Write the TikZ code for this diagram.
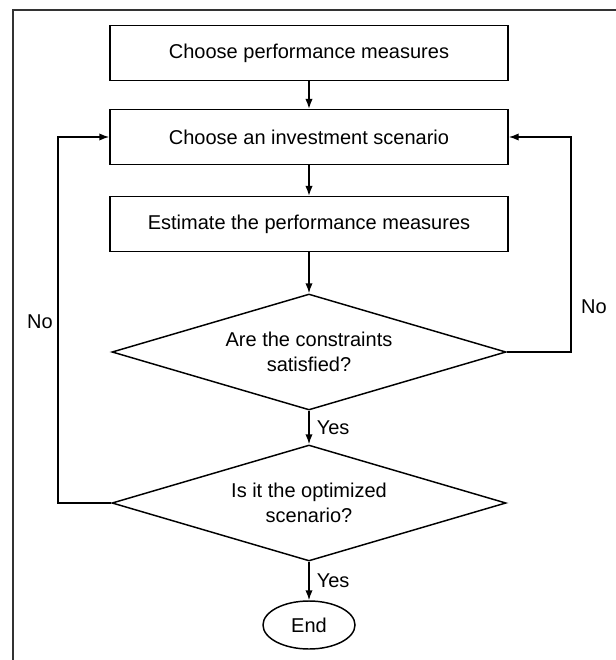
\documentclass[tikz,border=0pt]{standalone}
\usepackage{fontspec}
\setmainfont{Liberation Sans}
\usetikzlibrary{shapes.geometric,arrows.meta}

\tikzset{
  stepbox/.style={draw, line width=1.1pt, minimum width=298.5pt, minimum height=41pt, inner sep=2pt},
  decision/.style={draw, diamond, line width=1.1pt, aspect=3.4, minimum width=295.5pt, minimum height=87pt, inner sep=1pt, align=center},
  terminal/.style={draw, ellipse, line width=1.1pt, minimum width=69pt, minimum height=36pt, inner sep=1pt},
  flow/.style={line width=1.1pt, -{Latex[length=7.5pt,width=5.5pt]}},
  loop/.style={line width=1.1pt, -{Latex[length=7.5pt,width=5.5pt]}, rounded corners=0pt}
}

\begin{document}
\begin{tikzpicture}[x=0.75pt, y=-0.75pt, font=\fontsize{15}{19}\selectfont]
                \useasboundingbox (0,0) rectangle (616,660);
                % frame (cut at the right and bottom)
                \draw[line width=0.9pt, black!80] (616,10) -| (13,660);
                % steps
                \node[stepbox] (measures) at (309,53) {Choose performance measures};
                \node[stepbox] (scenario) at (309,137) {Choose an investment scenario};
                \node[stepbox] (estimate) at (309,224) {Estimate the performance measures};
                \node[decision] (constraints) at (309,352) {Are the constraints\\satisfied?};
                \node[decision] (optimized) at (309,503) {Is it the optimized\\scenario?};
                \node[terminal] (end) at (309,625) {End};
                % loop corners
                \coordinate (rightturn) at (571,352);
                \coordinate (leftturn) at (58,503);
                % connectors
                \draw[flow] (measures) -- (scenario);
                \draw[flow] (scenario) -- (estimate);
                \draw[flow] (estimate) -- (constraints);
                \draw[flow] (constraints) -- node[right, xshift=2pt] (yes1) {Yes} (optimized);
                \draw[flow] (optimized) -- node[right, xshift=2pt] (yes2) {Yes} (end);
                \draw[loop] (constraints.east) -- (rightturn) |- (scenario.east);
                \draw[loop] (optimized.west) -- (leftturn) |- (scenario.west);
                \node (no1) at (594,307) {No};
                \node (no2) at (40,322) {No};
            \end{tikzpicture}
\end{document}
